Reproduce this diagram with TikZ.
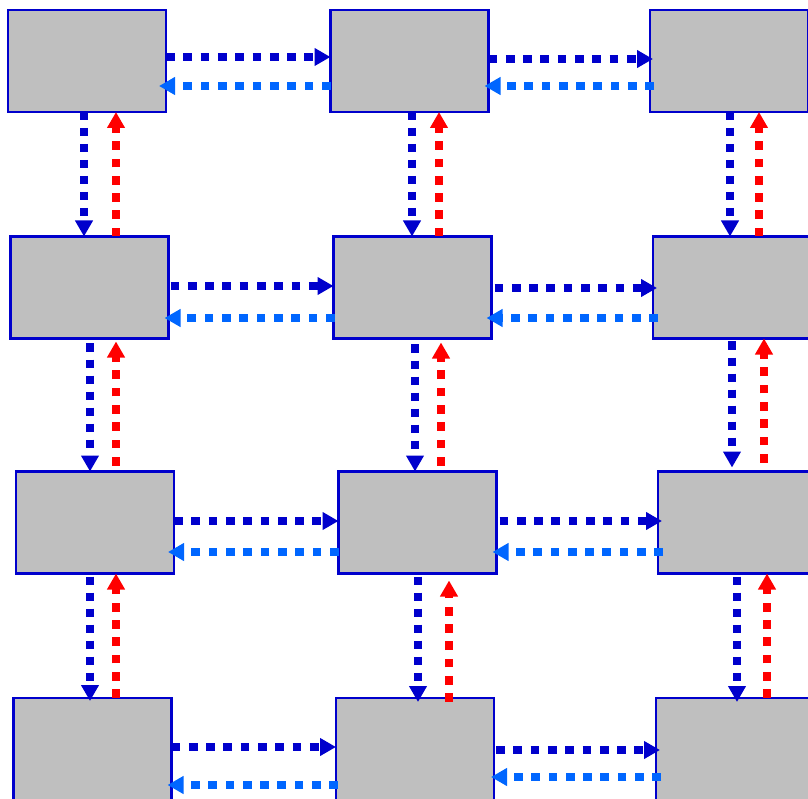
\documentclass[tikz,border=0pt]{standalone}
\usetikzlibrary{arrows.meta}
\definecolor{dblue}{HTML}{0000CC}
\definecolor{lblue}{HTML}{0066FF}
\definecolor{rred}{HTML}{FF0000}
\definecolor{boxgray}{HTML}{BFBFBF}
\tikzset{
  box/.style={draw=dblue, fill=boxgray, line width=2.5pt, minimum width=158pt, minimum height=102pt, inner sep=0pt, outer sep=0pt},
  conn/.style={line width=8.7pt, dash pattern=on 8.7pt off 8.6pt, -{Triangle[length=16pt,width=17pt]}},
  rgt/.style={conn, dblue},
  lft/.style={conn, lblue},
  dwn/.style={conn, dblue, line width=7.7pt, dash pattern=on 8pt off 8pt},
  upw/.style={conn, rred},
}
\begin{document}
\begin{tikzpicture}[x=1pt,y=-1pt]
\useasboundingbox (0,0) rectangle (808,799);
\clip (0,0) rectangle (808,799);
% boxes
\node[box] (A11) at (87,61) {};
\node[box] (A12) at (409.5,61) {};
\node[box] (A13) at (729,61) {};
\node[box] (A21) at (89.5,287.5) {};
\node[box] (A22) at (412.5,287.5) {};
\node[box] (A23) at (732,287.5) {};
\node[box] (A31) at (95,522.5) {};
\node[box] (A32) at (417.5,522.5) {};
\node[box] (A33) at (737,522.5) {};
\node[box] (A41) at (92.5,749) {};
\node[box] (A42) at (415,749) {};
\node[box] (A43) at (735,749) {};
% horizontal, rightwards
\draw[rgt] (A11.east |- 0,57) -- (A12.west |- 0,57);
\draw[rgt, shorten >=-3pt] (A12.east |- 0,59) -- (A13.west |- 0,59);
\draw[rgt, shorten <=2pt] (A21.east |- 0,286) -- (A22.west |- 0,286);
\draw[rgt, shorten <=3pt, shorten >=-4pt] (A22.east |- 0,288) -- (A23.west |- 0,288);
\draw[rgt] (A31.east |- 0,521) -- (A32.west |- 0,521);
\draw[rgt, shorten <=3pt, shorten >=-4pt] (A32.east |- 0,521) -- (A33.west |- 0,521);
\draw[rgt] (A41.east |- 0,747) -- (A42.west |- 0,747);
\draw[rgt, shorten <=2pt, shorten >=-4pt] (A42.east |- 0,750) -- (A43.west |- 0,750);
% horizontal, leftwards
\draw[lft, shorten >=-7pt] (A12.west |- 0,86) -- (A11.east |- 0,86);
\draw[lft, shorten <=-4pt, shorten >=-4pt] (A13.west |- 0,86) -- (A12.east |- 0,86);
\draw[lft, shorten <=-1pt, shorten >=-4pt] (A22.west |- 0,318) -- (A21.east |- 0,318);
\draw[lft, shorten <=-5pt, shorten >=-5pt] (A23.west |- 0,318) -- (A22.east |- 0,318);
\draw[lft, shorten >=-6pt] (A32.west |- 0,552) -- (A31.east |- 0,552);
\draw[lft, shorten <=-5pt, shorten >=-4pt] (A33.west |- 0,552) -- (A32.east |- 0,552);
\draw[lft, shorten <=-2pt, shorten >=-4pt] (A42.west |- 0,785) -- (A41.east |- 0,785);
\draw[lft, shorten <=-5pt, shorten >=-3pt] (A43.west |- 0,777) -- (A42.east |- 0,777);
% vertical, downwards
\draw[dwn] (84,0 |- A11.south) -- (84,0 |- A21.north);
\draw[dwn] (412,0 |- A12.south) -- (412,0 |- A22.north);
\draw[dwn] (730,0 |- A13.south) -- (730,0 |- A23.north);
\draw[dwn, shorten <=5pt] (90,0 |- A21.south) -- (90,0 |- A31.north);
\draw[dwn, shorten <=6pt] (415,0 |- A22.south) -- (415,0 |- A32.north);
\draw[dwn, shorten <=3pt, shorten >=4pt] (732,0 |- A23.south) -- (732,0 |- A33.north);
\draw[dwn, shorten <=3pt, shorten >=-3pt] (90,0 |- A31.south) -- (90,0 |- A41.north);
\draw[dwn, shorten <=3pt, shorten >=-4pt] (418,0 |- A32.south) -- (418,0 |- A42.north);
\draw[dwn, shorten <=3pt, shorten >=-4pt] (737,0 |- A33.south) -- (737,0 |- A43.north);
% vertical, upwards
\draw[upw] (116,0 |- A21.north) -- (116,0 |- A11.south);
\draw[upw] (439,0 |- A22.north) -- (439,0 |- A12.south);
\draw[upw] (759,0 |- A23.north) -- (759,0 |- A13.south);
\draw[upw, shorten <=6pt, shorten >=3pt] (116,0 |- A31.north) -- (116,0 |- A21.south);
\draw[upw, shorten <=6pt, shorten >=4pt] (441,0 |- A32.north) -- (441,0 |- A22.south);
\draw[upw, shorten <=9pt] (764,0 |- A33.north) -- (764,0 |- A23.south);
\draw[upw] (116,0 |- A41.north) -- (116,0 |- A31.south);
\draw[upw, shorten <=-4pt, shorten >=7pt] (449,0 |- A42.north) -- (449,0 |- A32.south);
\draw[upw] (767,0 |- A43.north) -- (767,0 |- A33.south);
\end{tikzpicture}
\end{document}
